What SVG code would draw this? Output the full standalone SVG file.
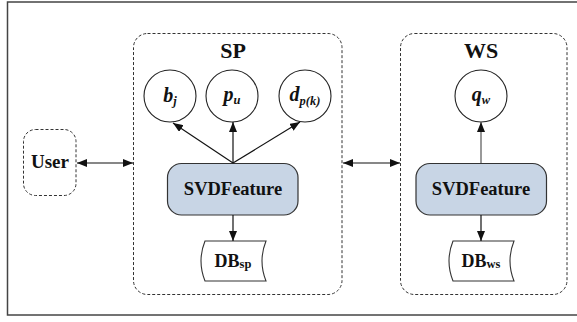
<svg xmlns="http://www.w3.org/2000/svg" width="577" height="322" viewBox="0 0 577 322">
  <defs>
    <style>
      .frame { fill: #ffffff; stroke: #444444; stroke-width: 1.5; }
      .group { fill: none; stroke: #333333; stroke-width: 1; stroke-dasharray: 3 2; }
      .param { fill: #ffffff; stroke: #222222; stroke-width: 1.1; }
      .engine { fill: #c8d5e5; stroke: #333333; stroke-width: 1.2; }
      .store { fill: #ffffff; stroke: #333333; stroke-width: 1.1; }
      .link { fill: none; stroke: #111111; stroke-width: 1.2; }
      .link-gray { fill: none; stroke: #555555; stroke-width: 1.2; }
      text { font-family: 'Liberation Serif', 'DejaVu Serif', serif; font-weight: bold; fill: #111111; }
      .title { font-size: 22px; }
      .label { font-size: 18.5px; }
      .math { font-size: 20px; font-style: italic; }
      .sub { font-size: 12.5px; }
    </style>
    <marker id="head" viewBox="0 0 10 8" refX="10" refY="4" markerWidth="10" markerHeight="8" markerUnits="userSpaceOnUse" orient="auto-start-reverse">
      <path d="M0,0 L10,4 L0,8 z" fill="#111111"/>
    </marker>
  </defs>

  <!-- outer frame -->
  <rect class="frame" x="7.5" y="2" width="575" height="313"/>

  <!-- user -->
  <g id="user">
    <rect class="group" x="23.5" y="129.5" width="52.5" height="66" rx="12"/>
    <text x="50" y="168" text-anchor="middle" font-family="Liberation Serif, serif" style="font-size:19px">User</text>
  </g>

  <!-- service provider -->
  <g id="sp">
    <rect class="group" x="133.5" y="33.5" width="208.5" height="261" rx="14"/>
    <text class="title" x="233" y="58" text-anchor="middle">SP</text>
  </g>
  <g id="bj">
    <circle class="param" cx="170" cy="96" r="26"/>
    <text class="math" x="170" y="102" text-anchor="middle">b<tspan class="sub" dy="3">j</tspan></text>
  </g>
  <g id="pu">
    <circle class="param" cx="232" cy="96" r="26"/>
    <text class="math" x="232" y="101" text-anchor="middle">p<tspan class="sub" dy="3">u</tspan></text>
  </g>
  <g id="dpk">
    <circle class="param" cx="305" cy="96" r="26"/>
    <text class="math" x="305" y="101" text-anchor="middle">d<tspan class="sub" dy="4">p(k)</tspan></text>
  </g>
  <g id="svd-sp">
    <rect class="engine" x="167.5" y="163.5" width="130.5" height="51.5" rx="14"/>
    <text class="label" x="233" y="195" text-anchor="middle">SVDFeature</text>
  </g>
  <g id="db-sp">
    <path class="store" d="M205,241 L266,241 Q258,261 266,281 L205,281 Q197,261 205,241 Z"/>
    <text x="233" y="267" text-anchor="middle" style="font-size:18px">DB<tspan class="sub" dy="1">sp</tspan></text>
  </g>

  <!-- web service -->
  <g id="ws">
    <rect class="group" x="400.5" y="33.5" width="166.5" height="261" rx="14"/>
    <text class="title" x="481" y="58" text-anchor="middle">WS</text>
  </g>
  <g id="qw">
    <circle class="param" cx="481" cy="96" r="26"/>
    <text class="math" x="481" y="101" text-anchor="middle">q<tspan class="sub" dy="3">w</tspan></text>
  </g>
  <g id="svd-ws">
    <rect class="engine" x="416" y="163.5" width="130.5" height="51.5" rx="14"/>
    <text class="label" x="481" y="195" text-anchor="middle">SVDFeature</text>
  </g>
  <g id="db-ws">
    <path class="store" d="M453,241 L514,241 Q506,261 514,281 L453,281 Q445,261 453,241 Z"/>
    <text x="481" y="267" text-anchor="middle" style="font-size:18px">DB<tspan class="sub" dy="1">ws</tspan></text>
  </g>

  <!-- connectors -->
  <g id="connectors">
    <line class="link" x1="77" y1="163" x2="133" y2="163" marker-start="url(#head)" marker-end="url(#head)"/>
    <line class="link" x1="343" y1="163" x2="400" y2="163" marker-start="url(#head)" marker-end="url(#head)"/>
    <line class="link" x1="233" y1="163" x2="173" y2="123" marker-end="url(#head)"/>
    <line class="link" x1="233" y1="163" x2="233" y2="122" marker-end="url(#head)"/>
    <line class="link" x1="233" y1="163" x2="300" y2="122" marker-end="url(#head)"/>
    <line class="link" x1="233" y1="215" x2="233" y2="241" marker-end="url(#head)"/>
    <line class="link-gray" x1="481" y1="163" x2="481" y2="122" marker-end="url(#head)"/>
    <line class="link" x1="481" y1="215" x2="481" y2="241" marker-end="url(#head)"/>
  </g>
</svg>
